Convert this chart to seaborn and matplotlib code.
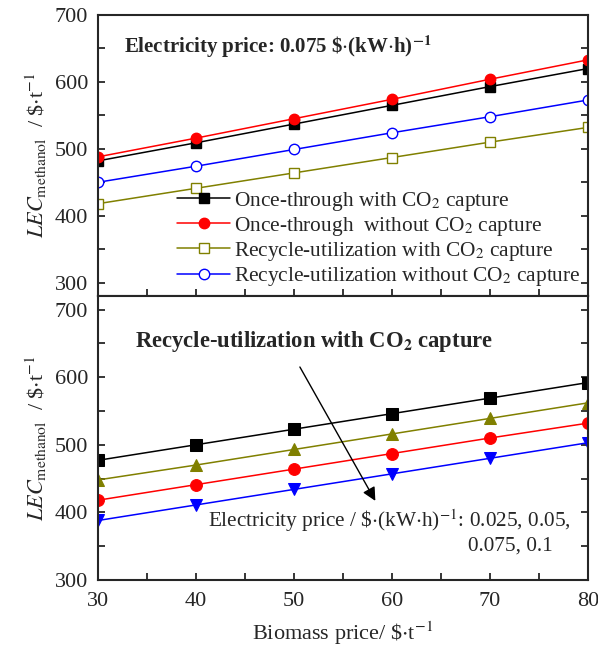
import numpy as np
import pandas as pd
import matplotlib
matplotlib.use("Agg")
import matplotlib.pyplot as plt
import seaborn as sns
from matplotlib.ticker import MultipleLocator

# 数据：生物质价格 ($/t)
biomass_price = [30, 40, 50, 60, 70, 80]

# 上图：电价 0.075 $/(kW·h)，四种流程
top_labels = [
    r"Once-through with CO$_2$ capture",
    r"Once-through  without CO$_2$ capture",
    r"Recycle-utilization with CO$_2$ capture",
    r"Recycle-utilization without CO$_2$ capture",
]
once_with = [482, 509, 537, 565, 593, 620]
once_without = [488, 516, 545, 574, 604, 633]
recycle_with = [418, 441, 464, 487, 510, 532]
recycle_without = [450, 474, 499, 524, 548, 573]

# 下图：Recycle-utilization with CO2 capture，不同电价
elec_prices = ["0.1", "0.075", "0.05", "0.025"]
lec_e0100 = [477, 500, 523, 546, 569, 592]
lec_e0075 = [448, 470, 493, 516, 539, 562]
lec_e0050 = [418, 441, 464, 487, 510, 532]
lec_e0025 = [388, 411, 434, 457, 480, 503]

OLIVE = "#808000"

sns.set_style("ticks")
plt.rcParams.update({
    "font.family": ["Liberation Serif", "DejaVu Serif"],
    "mathtext.fontset": "stix",
    "font.size": 16,
    "axes.linewidth": 1.5,
    "xtick.direction": "in",
    "ytick.direction": "in",
    "xtick.major.width": 1.3,
    "ytick.major.width": 1.3,
    "xtick.minor.width": 1.3,
    "ytick.minor.width": 1.3,
    "xtick.major.size": 5,
    "ytick.major.size": 5,
    "xtick.minor.size": 5,
    "ytick.minor.size": 5,
})

fig = plt.figure(figsize=(5.98, 6.53), dpi=100)
ax1 = fig.add_axes([0.1639, 0.5467, 0.8194, 0.4303])
ax2 = fig.add_axes([0.1639, 0.1118, 0.8194, 0.4349])

# 上图
top_series = [
    (once_with, "black", "s", "black"),
    (once_without, "red", "o", "red"),
    (recycle_with, OLIVE, "s", "white"),
    (recycle_without, "blue", "o", "white"),
]
for (vals, c, m, fc), lab in zip(top_series, top_labels):
    sns.lineplot(x=biomass_price, y=vals, ax=ax1, color=c, marker=m,
                 markerfacecolor=fc, markeredgecolor=c, markersize=7.5,
                 markeredgewidth=1.0, linewidth=1.1, label=lab)

ax1.set_xlim(30, 80)
ax1.set_ylim(280, 700)
ax1.yaxis.set_major_locator(MultipleLocator(100))
ax1.yaxis.set_minor_locator(MultipleLocator(50))
ax1.xaxis.set_major_locator(MultipleLocator(10))
ax1.xaxis.set_minor_locator(MultipleLocator(5))
ax1.tick_params(axis="x", which="both", labelbottom=False)
ax1.tick_params(axis="y", which="both", right=True, pad=7)
ax1.tick_params(labelsize=16)
ax1.text(32.7, 652, r"Electricity price: 0.075 \$$\cdot$(kW$\cdot$h)$^{\mathbf{-1}}$",
         fontsize=15, fontweight="bold", va="center", ha="left")
ax1.legend(loc="lower left", bbox_to_anchor=(0.14, -0.01), frameon=False,
           fontsize=15.4, handlelength=2.45, handletextpad=0.2,
           labelspacing=0.1, borderaxespad=0.1)
ax1.set_ylabel(r"$\mathit{LEC}_{\mathrm{methanol}}$  / \$$\cdot$t$^{-1}$", fontsize=16)

# 下图
bottom_series = [
    (lec_e0100, "black", "s"),
    (lec_e0075, OLIVE, "^"),
    (lec_e0050, "red", "o"),
    (lec_e0025, "blue", "v"),
]
for (vals, c, m), ep in zip(bottom_series, elec_prices):
    sns.lineplot(x=biomass_price, y=vals, ax=ax2, color=c, marker=m,
                 markerfacecolor=c, markeredgecolor=c, markersize=8.5,
                 linewidth=1.1, label=ep, legend=False)

ax2.set_xlim(30, 80)
ax2.set_ylim(300, 720)
ax2.yaxis.set_major_locator(MultipleLocator(100))
ax2.yaxis.set_minor_locator(MultipleLocator(50))
ax2.xaxis.set_major_locator(MultipleLocator(10))
ax2.xaxis.set_minor_locator(MultipleLocator(5))
ax2.tick_params(axis="y", which="both", right=True, pad=7)
ax2.tick_params(axis="x", which="both", pad=9)
ax2.tick_params(labelsize=16)
ax2.set_yticks([300, 400, 500, 600, 700])
ax2.text(33.8, 652, r"Recycle-utilization with CO$_\mathbf{2}$ capture",
         fontsize=16.3, fontweight="bold", va="center", ha="left")
ax2.annotate("", xy=(58.3, 417), xytext=(50.6, 615),
             arrowprops=dict(arrowstyle="-|>", color="black", lw=1.0,
                             mutation_scale=20, shrinkA=0, shrinkB=0))
ax2.text(41.2, 388, r"Electricity price / \$$\cdot$(kW$\cdot$h)$^{-1}$: 0.025, 0.05,",
         fontsize=15.3, va="center", ha="left")
ax2.text(67.8, 350, "0.075, 0.1", fontsize=15.3, va="center", ha="left")
ax2.set_ylabel(r"$\mathit{LEC}_{\mathrm{methanol}}$  / \$$\cdot$t$^{-1}$", fontsize=16)
ax2.set_xlabel(r"Biomass price/ \$$\cdot$t$^{-1}$", fontsize=16, labelpad=6)

fig.align_ylabels([ax1, ax2])
fig.savefig("out.png", dpi=100)
